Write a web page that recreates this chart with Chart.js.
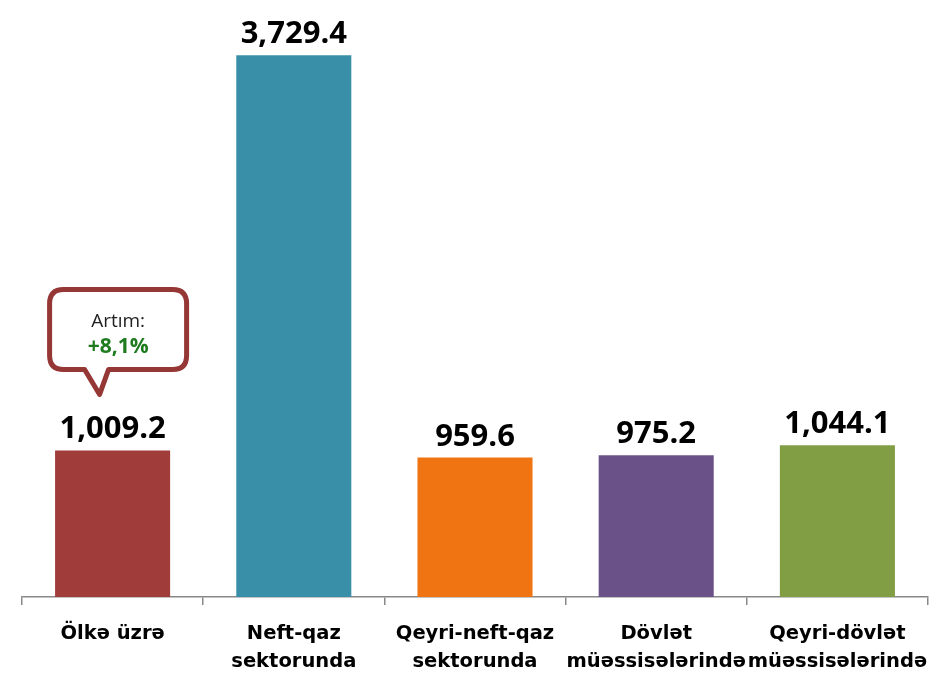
<!DOCTYPE html>
<html>
<head>
<meta charset="utf-8">
<script src="https://cdn.jsdelivr.net/npm/chart.js@4"></script>
<style>
html,body{margin:0;padding:0;background:#fff;}
#wrap{width:931px;height:676px;}
</style>
</head>
<body>
<div id="wrap"><canvas id="c" width="931" height="676"></canvas></div>
<script>
const categories = [["Ölkə üzrə"], ["Neft-qaz", "sektorunda"], ["Qeyri-neft-qaz", "sektorunda"], ["Dövlət", "müəssisələrində"], ["Qeyri-dövlət", "müəssisələrində"]];
const values = [1009.2, 3729.4, 959.6, 975.2, 1044.1];
const barColors = ["#A03D3B", "#3A8FA8", "#F07412", "#6A5288", "#819E44"];
const calloutTitle = "Artım:";
const calloutValue = "+8,1%";

const fmt = v => v.toLocaleString("en-US", {minimumFractionDigits: 1, maximumFractionDigits: 1});

const labelsPlugin = {
  id: "valLabels",
  afterDatasetsDraw(chart) {
    const ctx = chart.ctx;
    const meta = chart.getDatasetMeta(0);
    ctx.save();
    ctx.fillStyle = "#000";
    ctx.font = "bold 31px 'Open Sans'";
    ctx.textAlign = "center";
    ctx.textBaseline = "alphabetic";
    meta.data.forEach((bar, i) => {
      ctx.fillText(fmt(values[i]), bar.x, bar.y - 12);
    });
    // callout over first bar
    const b = meta.data[0];
    const cx = b.x;
    const left = cx - 63, right = cx + 74, top = b.y - 161, bottom = b.y - 81;
    const r = 14;
    const tL = cx - 28, tR = cx - 4, tipX = cx - 13, tipY = b.y - 56;
    ctx.beginPath();
    ctx.moveTo(left + r, top);
    ctx.lineTo(right - r, top);
    ctx.quadraticCurveTo(right, top, right, top + r);
    ctx.lineTo(right, bottom - r);
    ctx.quadraticCurveTo(right, bottom, right - r, bottom);
    ctx.lineTo(tR, bottom);
    ctx.lineTo(tipX, tipY);
    ctx.lineTo(tL, bottom);
    ctx.lineTo(left + r, bottom);
    ctx.quadraticCurveTo(left, bottom, left, bottom - r);
    ctx.lineTo(left, top + r);
    ctx.quadraticCurveTo(left, top, left + r, top);
    ctx.closePath();
    ctx.fillStyle = "#fff";
    ctx.fill();
    ctx.lineWidth = 5;
    ctx.lineJoin = "round";
    ctx.strokeStyle = "#953735";
    ctx.stroke();
    ctx.textBaseline = "middle";
    ctx.fillStyle = "#222";
    ctx.font = "19px 'Open Sans'";
    ctx.fillText(calloutTitle, (left + right) / 2, top + 32);
    ctx.fillStyle = "#1E7B1E";
    ctx.font = "bold 21px 'Open Sans'";
    ctx.fillText(calloutValue, (left + right) / 2, top + 58);
    ctx.restore();
  }
};

new Chart(document.getElementById("c"), {
  type: "bar",
  data: {
    labels: categories,
    datasets: [{
      data: values,
      backgroundColor: barColors,
      categoryPercentage: 0.635,
      barPercentage: 1.0
    }]
  },
  options: {
    responsive: false,
    animation: false,
    layout: {autoPadding: false, padding: {top: 16, left: 22, right: 3, bottom: 0}},
    plugins: {legend: {display: false}, tooltip: {enabled: false}},
    scales: {
      y: {display: false, min: 0, max: 4000},
      x: {
        offset: true,
        afterFit(scale) { scale.height = 79; scale.paddingLeft = 0; scale.paddingRight = 0; },
        grid: {offset: true, drawOnChartArea: false, drawTicks: true, tickLength: 8, color: "#888", lineWidth: 1.5},
        border: {display: true, color: "#888", width: 1.5},
        ticks: {
          autoSkip: false, maxRotation: 0, minRotation: 0,
          color: "#000",
          padding: 15,
          font: {family: "'DejaVu Sans'", size: 19.5, weight: "bold", lineHeight: "28px"}
        }
      }
    }
  },
  plugins: [labelsPlugin]
});
</script>
</body>
</html>
